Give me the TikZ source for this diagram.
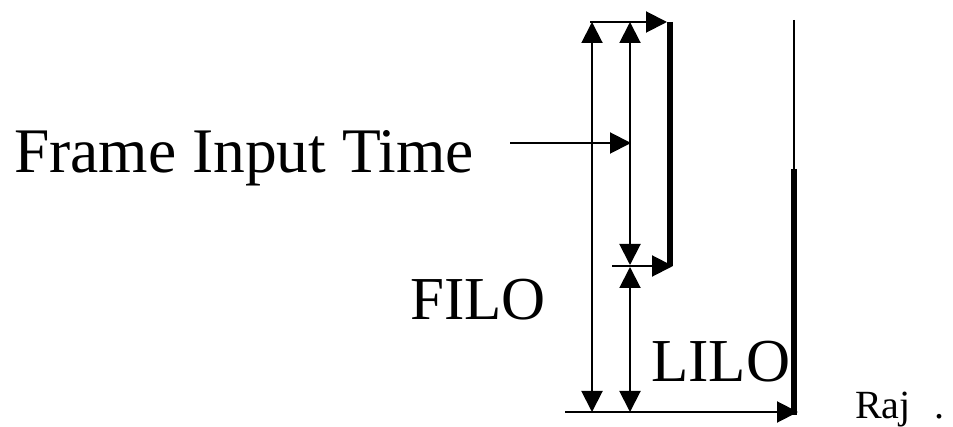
\documentclass[tikz,border=0pt]{standalone}
\usepackage{fontspec}
\setmainfont{Liberation Serif}
\usetikzlibrary{arrows.meta}
\begin{document}
\begin{tikzpicture}[x=1pt,y=-1pt,
  thinln/.style={line width=2pt},
  thickbar/.style={line width=6.5pt},
  tip/.style={-{Triangle[length=21pt,width=21pt]}},
  dtip/.style={{Triangle[length=21pt,width=21pt]}-{Triangle[length=21pt,width=21pt]}},
  lbl/.style={inner sep=0pt, anchor=base west}]
\useasboundingbox (0,0) rectangle (953,427);
% coordinates
\coordinate (topL) at (590,22);
\coordinate (topR) at (667,22);
\coordinate (b1t) at (670,22);
\coordinate (b1b) at (670,266);
\coordinate (aT) at (592,22);
\coordinate (aB) at (592,412);
\coordinate (bT) at (630,22);
\coordinate (bM1) at (630,265);
\coordinate (bM2) at (630,267);
\coordinate (bB) at (630,412);
\coordinate (midL) at (612,266);
\coordinate (midR) at (673,266);
\coordinate (botL) at (565,412);
\coordinate (botR) at (798,412);
\coordinate (thinT) at (794,20);
\coordinate (b2t) at (794,169);
\coordinate (b2b) at (794,415);
\coordinate (fitS) at (510,143);
\coordinate (fitE) at (631,143);
% labels
\node[lbl, font=\fontsize{63.5}{70}\selectfont] (fit) at (14,173) {Frame Input Time};
\node[lbl, font=\fontsize{61}{70}\selectfont] (filo) at (410,320) {FILO};
\node[lbl, font=\fontsize{61}{70}\selectfont] (lilo) at (651,382) {LILO};
\node[lbl, font=\fontsize{40}{46}\selectfont] (raj) at (855,418) {Raj\hspace{24pt}.};
% bars
\draw[thickbar] (b1t) -- (b1b);
\draw[thinln] (thinT) -- (b2t);
\draw[thickbar] (b2t) -- (b2b);
% connectors
\draw[thinln,tip] (topL) -- (topR);
\draw[thinln,dtip] (aB) -- (aT);
\draw[thinln,dtip] (bM1) -- (bT);
\draw[thinln,dtip] (bB) -- (bM2);
\draw[thinln,tip] (midL) -- (midR);
\draw[thinln,tip] (botL) -- (botR);
\draw[thinln,tip] (fitS) -- (fitE);
\end{tikzpicture}
\end{document}
